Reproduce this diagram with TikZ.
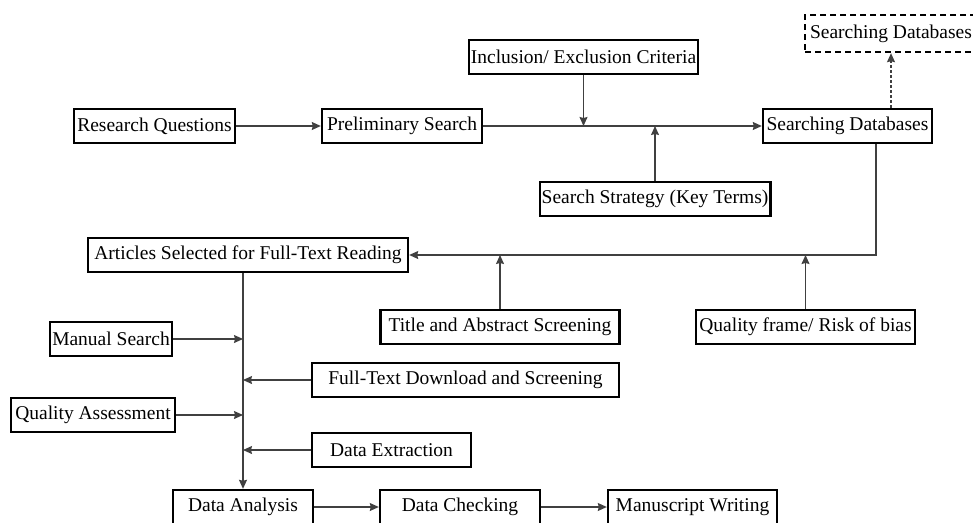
\documentclass[tikz,border=0pt]{standalone}
\usepackage{fontspec}
\setmainfont{Liberation Serif}
\usetikzlibrary{arrows.meta,positioning,calc}

\begin{document}
\begin{tikzpicture}[x=1pt,y=-1pt,>={Stealth[length=9pt,width=8pt,inset=1pt]},font=\fontsize{19.5}{22}\selectfont,
	box/.style={draw,line width=2.4pt,minimum height=34pt,inner sep=2pt},
	line/.style={->,line width=1.1pt,draw=black!75}]
	\useasboundingbox (0,0) rectangle (973,522);
	% top row
	\node[box,minimum width=161] (rq) at (154.5,126) {Research Questions};
	\node[box,minimum width=160] (ps) at (402,126) {Preliminary Search};
	\node[box,minimum width=229] (iec) at (583.5,57) {Inclusion/ Exclusion Criteria};
	\node[box,minimum width=169] (sd) at (847.5,126) {Searching Databases};
	\node[box,dashed,dash pattern=on 6pt off 4pt,minimum width=172,minimum height=37] (sdx) at (891,33.5) {Searching Databases};
	\node[box,minimum width=228] (sst) at (655,199) {Search Strategy (Key Terms)};
	% screening
	\node[box,minimum width=320] (asr) at (248,255) {Articles Selected for Full-Text Reading};
	\node[box,minimum width=239] (tas) at (500,327) {Title and Abstract Screening};
	\node[box,minimum width=219] (qf) at (805.5,327) {Quality frame/ Risk of bias};
	% side inputs
	\node[box,minimum width=122] (ms) at (111,339) {Manual Search};
	\node[box,minimum width=307] (ftd) at (465.5,380) {Full-Text Download and Screening};
	\node[box,minimum width=164] (qa) at (93,415) {Quality Assessment};
	\node[box,minimum width=159] (de) at (391.5,450) {Data Extraction};
	% bottom row
	\node[box,minimum width=140] (da) at (243,507) {Data Analysis};
	\node[box,minimum width=160] (dc) at (460,507) {Data Checking};
	\node[box,minimum width=169] (mw) at (692.5,507) {Manuscript Writing};

	\draw[line] (rq) -- (ps);
	\draw[line] (ps) -- (sd);
	\draw[line] (iec.south) -- (iec.south |- ps.east);
	\draw[line] (sst.north) -- (sst.north |- sd.west);
	\draw[line,dash pattern=on 3pt off 2pt] (sd.north -| sdx.south) -- (sdx.south);
	\draw[line] ([xshift=28.5]sd.south) |- (asr.east);
	\draw[line] (tas.north) -- (tas.north |- asr.east);
	\draw[line] (qf.north) -- (qf.north |- asr.east);
	\draw[line] (asr.south -| da.north) -- (da.north);
	\foreach \n in {ms,qa}
		\draw[line] (\n.east) -- (\n.east -| da.north);
	\foreach \n in {ftd,de}
		\draw[line] (\n.west) -- (\n.west -| da.north);
	\draw[line] (da) -- (dc);
	\draw[line] (dc) -- (mw);
\end{tikzpicture}
\end{document}
